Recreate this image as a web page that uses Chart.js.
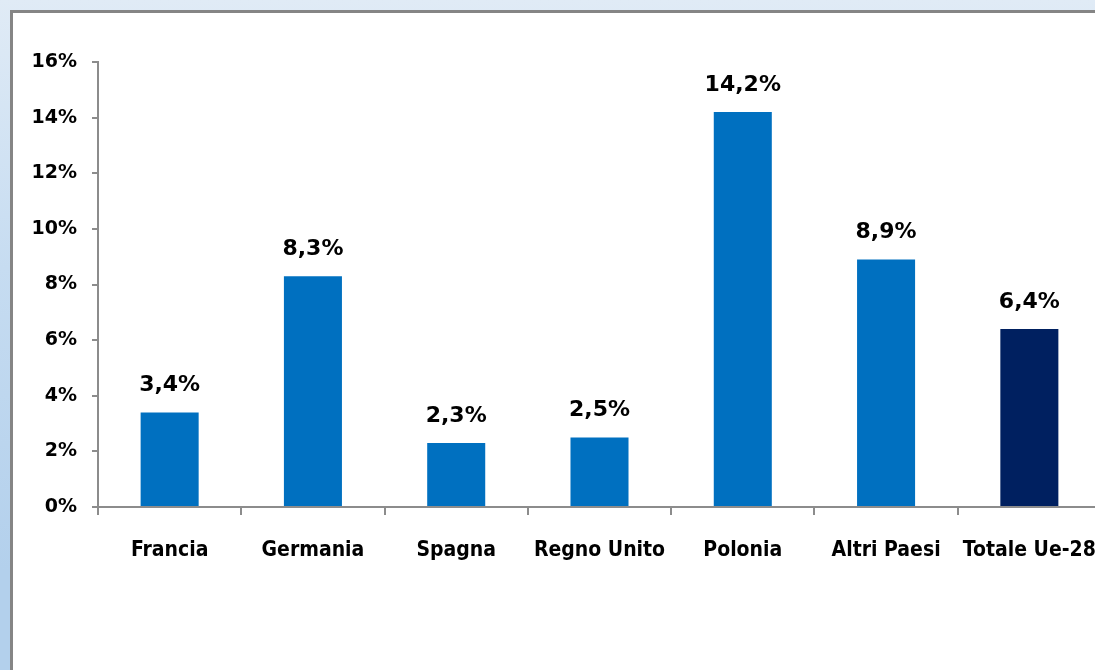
<!DOCTYPE html>
<html>
<head>
<meta charset="utf-8">
<script src="https://cdn.jsdelivr.net/npm/chart.js@4"></script>
<style>
  html, body { margin: 0; padding: 0; width: 1095px; height: 670px; overflow: hidden; }
  body { background: linear-gradient(to bottom, #e0ebf6 0%, #c6dcf1 40%, #b3d0ec 85%); position: relative; }
  #panel { position: absolute; left: 10px; top: 10px; width: 1200px; height: 800px; background: #fff; border: 3px solid #858585; }
  #wrap { position: absolute; left: 0; top: 0; width: 1120px; height: 670px; }
</style>
</head>
<body>
<div id="panel"></div>
<div id="wrap"><canvas id="chart" width="1120" height="670"></canvas></div>
<script>
const categories = ['Francia', 'Germania', 'Spagna', 'Regno Unito', 'Polonia', 'Altri Paesi', 'Totale Ue-28'];
const values = [3.4, 8.3, 2.3, 2.5, 14.2, 8.9, 6.4];
const yTicks = [0, 2, 4, 6, 8, 10, 12, 14, 16];

const fmt = v => v.toFixed(1).replace('.', ',') + '%';

// etichette sopra le barre
const valueLabels = {
    id: 'valueLabels',
    afterDatasetsDraw(chart) {
        const ctx = chart.ctx;
        const meta = chart.getDatasetMeta(0);
        ctx.save();
        ctx.font = 'bold 22px "DejaVu Sans"';
        ctx.fillStyle = '#000';
        ctx.textAlign = 'center';
        ctx.textBaseline = 'alphabetic';
        meta.data.forEach((bar, i) => {
            ctx.fillText(fmt(values[i]), bar.x, bar.y - 21);
        });
        ctx.restore();
    }
};

new Chart(document.getElementById('chart'), {
    type: 'bar',
    data: {
        labels: categories,
        datasets: [{
            data: values,
            backgroundColor: ['#0070C0', '#0070C0', '#0070C0', '#0070C0', '#0070C0', '#0070C0', '#002060'],
            barPercentage: 0.405,
            categoryPercentage: 1
        }]
    },
    options: {
        responsive: false,
        animation: false,
        layout: { padding: { left: 0, top: 62, right: 19, bottom: 0 } },
        plugins: { legend: { display: false }, tooltip: { enabled: false } },
        scales: {
            x: {
                grid: { display: true, drawOnChartArea: false, drawTicks: true, tickLength: 8, offset: true, color: '#8c8c8c', lineWidth: 2 },
                border: { display: true, color: '#8c8c8c', width: 2 },
                ticks: {
                    autoSkip: false, maxRotation: 0, minRotation: 0, padding: 23,
                    color: '#000',
                    font: { family: '"Liberation Sans Narrow", "DejaVu Sans Condensed", sans-serif', size: 21, weight: 'bold' }
                },
                afterFit(s) { s.height = 163; s.paddingLeft = 0; s.paddingRight = 0; }
            },
            y: {
                min: 0, max: 16,
                afterBuildTicks(s) { s.ticks = yTicks.map(v => ({ value: v })); },
                grid: { display: true, drawOnChartArea: false, drawTicks: true, tickLength: 6, color: '#8c8c8c', lineWidth: 2 },
                border: { display: true, color: '#8c8c8c', width: 2 },
                ticks: {
                    padding: 15,
                    color: '#000',
                    font: { family: '"DejaVu Sans"', size: 19, weight: 'bold' },
                    callback: v => v + '%'
                },
                afterFit(s) { s.width = 98; s.paddingTop = 0; s.paddingBottom = 0; }
            }
        }
    },
    plugins: [valueLabels]
});
</script>
</body>
</html>
